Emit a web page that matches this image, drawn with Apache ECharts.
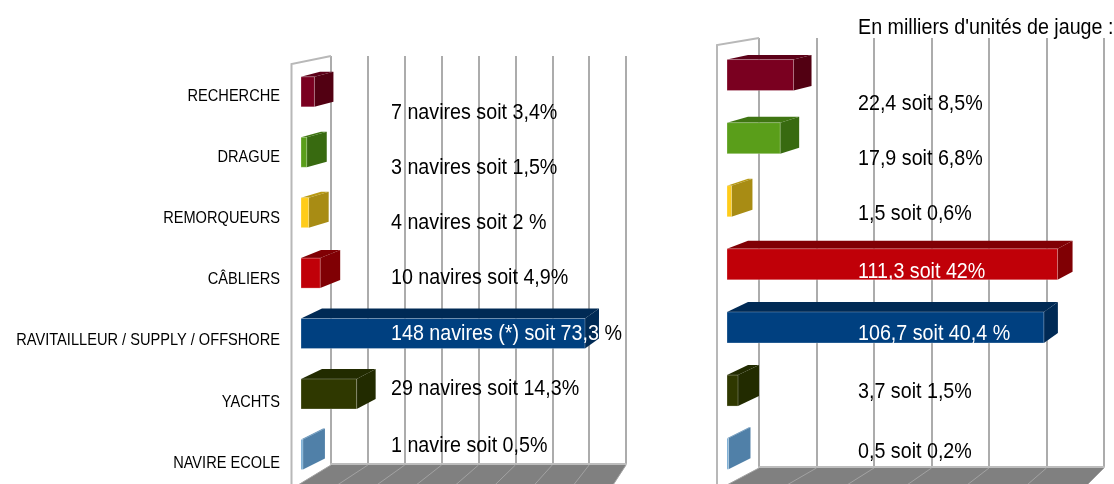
<!DOCTYPE html>
<html><head><meta charset="utf-8">
<style>html,body{margin:0;padding:0;background:#fff}#c{width:1114px;height:484px}</style>
<script src="https://cdn.jsdelivr.net/npm/echarts@6/dist/echarts.min.js"></script>
</head><body><div id="c"></div>
<script>
const categories = ['RECHERCHE','DRAGUE','REMORQUEURS','CÂBLIERS','RAVITAILLEUR / SUPPLY / OFFSHORE','YACHTS','NAVIRE ECOLE'];
const navires = [7,3,4,10,148,29,1];
const jauge = [22.4,17.9,1.5,111.3,106.7,3.7,0.5];
const naviresLabels = ['7 navires soit 3,4%','3 navires soit 1,5%','4 navires soit 2 %','10 navires soit 4,9%','148 navires (*) soit 73,3 %','29 navires soit 14,3%','1 navire soit 0,5%'];
const jaugeLabels = ['22,4 soit 8,5%','17,9 soit 6,8%','1,5 soit 0,6%','111,3 soit 42%','106,7 soit 40,4 %','3,7 soit 1,5%','0,5 soit 0,2%'];
const titleText = "En milliers d'unités de jauge :";

const FONT = '"Liberation Sans",Arial,sans-serif';
const CAPTION_SIZE = 22.5, CAPTION_SCALE = 0.875;
const LABEL_SIZE = 16.5, LABEL_SCALE = 0.885;
const frontColors = ['#7a0020','#5a9e1a','#ffcc1a','#c00008','#004080','#2f3800','#6fa6d0'];
const sideColors  = ['#520012','#386a10','#a88c14','#800004','#002a55','#222b00','#5080a8'];
const topColors   = ['#5c0018','#3f7512','#b89a14','#800004','#002a55','#222b00','#5c8cb4'];

const panels = [
  { values:navires, texts:naviresLabels, max:160, ticks:20,
    wall:{left:331,top:56,width:295,height:408}, bars:{left:301,top:61.6,width:307,height:423},
    barH:30, depthL:[19,20,20,20,21,21,22], depthR:[19,20,20,20,14,19,22], depthY:[5,5.5,6,8,10,10,11],
    textDx:90, textDy:[21,16,10.5,5,0,-5,-8.5], whiteChars:{4:25},
    side:[-39.5,8], floorL:-33, floorR:-13, floorY:20 },
  { values:jauge, texts:jaugeLabels, max:120, ticks:20,
    wall:{left:759,top:38,width:345,height:429}, bars:{left:727,top:43.5,width:356.4,height:441.7},
    barH:31, depthL:[21,21,21,21,21,21,22], depthR:[18,19,21,15,14,21,22], depthY:[4.5,6,7,8,10,10,11],
    textDx:131, textDy:[29,20.4,12.5,7,6,1.5,-1.5], whiteChars:{3:14,4:17},
    side:[-42,7], floorL:-34, floorR:-18, floorY:18 }
];

const grids=[], xAxes=[], yAxes=[], series=[];
function addGrid(g, xOpt, yOpt){
  grids.push(Object.assign({outerBoundsMode:'none'},g)); const i=grids.length-1;
  xAxes.push(Object.assign({gridIndex:i,type:'value',min:0},xOpt));
  yAxes.push(Object.assign({gridIndex:i,type:'category',inverse:true,data:categories,
    axisLine:{show:false},axisTick:{show:false},axisLabel:{show:false},splitLine:{show:false}},yOpt));
  return i;
}
const hiddenX = max => ({max,axisLine:{show:false},axisTick:{show:false},axisLabel:{show:false},splitLine:{show:false}});

panels.forEach(p=>{
  const w = addGrid(p.wall,{max:p.max,interval:p.ticks,axisLabel:{show:false},axisTick:{show:false},
    axisLine:{show:true,onZero:false,lineStyle:{color:'#bdbdbd',width:2}},
    splitLine:{show:true,lineStyle:{color:'#acacac',width:2}}},{});
  const tickVals=[]; for(let t=0;t<=p.max;t+=p.ticks) tickVals.push(t);
  series.push({type:'custom',xAxisIndex:w,yAxisIndex:w,clip:false,silent:true,z:1,
    data:tickVals.map(t=>[t,0]),
    renderItem(params,api){
      const bottomY = api.coord([0,0])[1]+api.size([0,1])[1]*6.5;
      const topY = bottomY-p.wall.height;
      const v = api.value(0), x = api.coord([v,0])[0];
      const fx = p.floorL+(p.floorR-p.floorL)*v/p.max, fy=p.floorY, ch=[];
      if(params.dataIndex===0){
        const x1=api.coord([p.max,0])[0];
        ch.push({type:'polygon',z2:1,shape:{points:[[x,bottomY+1],[x1,bottomY+1],[x1+p.floorR,bottomY+fy+1],[x+p.floorL,bottomY+fy+1]]},style:{fill:'#808080'}});
        ch.push({type:'polyline',z2:3,shape:{points:[[x,topY],[x+p.side[0],topY+p.side[1]],[x+p.side[0],bottomY+40]]},style:{fill:'none',stroke:'#b8b8b8',lineWidth:2}});
      }
      ch.push({type:'line',z2:2,shape:{x1:x,y1:bottomY+1,x2:x+fx,y2:bottomY+fy+1},style:{stroke:'#a2a2a2',lineWidth:1}});
      return {type:'group',children:ch};
    }
  });
  const b = addGrid(p.bars,hiddenX(p.max),{});
  series.push({type:'custom',xAxisIndex:b,yAxisIndex:b,clip:false,silent:true,z:3,
    data:p.values.map((v,i)=>[v,i]),
    renderItem(params,api){
      const i=params.dataIndex;
      const s=api.coord([0,i]), e=api.coord([api.value(0),i]);
      const h=p.barH/2, x0=s[0], x1=e[0], yc=s[1], t=yc-h, bt=yc+h;
      const dl=p.depthL[i], dr=p.depthR[i], dy=p.depthY[i];
      return {type:'group',children:[
        {type:'polygon',shape:{points:[[x0,t],[x0+dl,t-dy],[x1+dr,t-dy],[x1,t]]},style:{fill:topColors[i]}},
        {type:'polygon',shape:{points:[[x1,t],[x1+dr,t-dy],[x1+dr,bt-dy],[x1,bt]]},style:{fill:sideColors[i]}},
        {type:'rect',shape:{x:x0,y:t,width:x1-x0,height:p.barH},style:{fill:frontColors[i],stroke:'rgba(255,255,255,0.25)',lineWidth:1}}
      ]};
    }
  });
  series.push({type:'custom',xAxisIndex:b,yAxisIndex:b,clip:false,silent:true,z:5,
    data:p.texts.map((_,i)=>[0,i]),
    renderItem(params,api){
      const i=params.dataIndex, c=api.coord([0,i]), txt=p.texts[i], n=p.whiteChars[i];
      const base={fontFamily:FONT,fontSize:CAPTION_SIZE};
      const rich={w:Object.assign({fill:'#fff'},base),k:Object.assign({fill:'#000'},base)};
      const t = n ? '{w|'+txt.slice(0,n)+'}'+(n<txt.length?'{k|'+txt.slice(n)+'}':'') : '{k|'+txt+'}';
      return {type:'text',x:c[0]+p.textDx,y:c[1]+p.textDy[i],scaleX:CAPTION_SCALE,
        style:{text:t,rich,verticalAlign:'middle',align:'left'}};
    }
  });
});

// category labels
const l = addGrid({left:280,top:66,width:1,height:427.7},hiddenX(1),{});
series.push({type:'custom',xAxisIndex:l,yAxisIndex:l,clip:false,silent:true,z:5,
  data:categories.map((_,i)=>[0,i]),
  renderItem(params,api){
    const c=api.coord([0,params.dataIndex]);
    return {type:'text',x:c[0],y:c[1],scaleX:LABEL_SCALE,
      style:{text:categories[params.dataIndex],fill:'#000',fontFamily:FONT,fontSize:LABEL_SIZE,align:'right',verticalAlign:'middle'}};
  }
});

const chart=echarts.init(document.getElementById('c'),null,{renderer:'canvas'});
chart.setOption({animation:false,backgroundColor:'#fff',tooltip:{show:false},legend:{show:false},
  graphic:[{type:'text',x:858,y:28,scaleX:CAPTION_SCALE,z:10,
    style:{text:titleText,fill:'#000',fontFamily:FONT,fontSize:CAPTION_SIZE,align:'left',verticalAlign:'middle'}}],
  grid:grids,xAxis:xAxes,yAxis:yAxes,series});
</script></body></html>
